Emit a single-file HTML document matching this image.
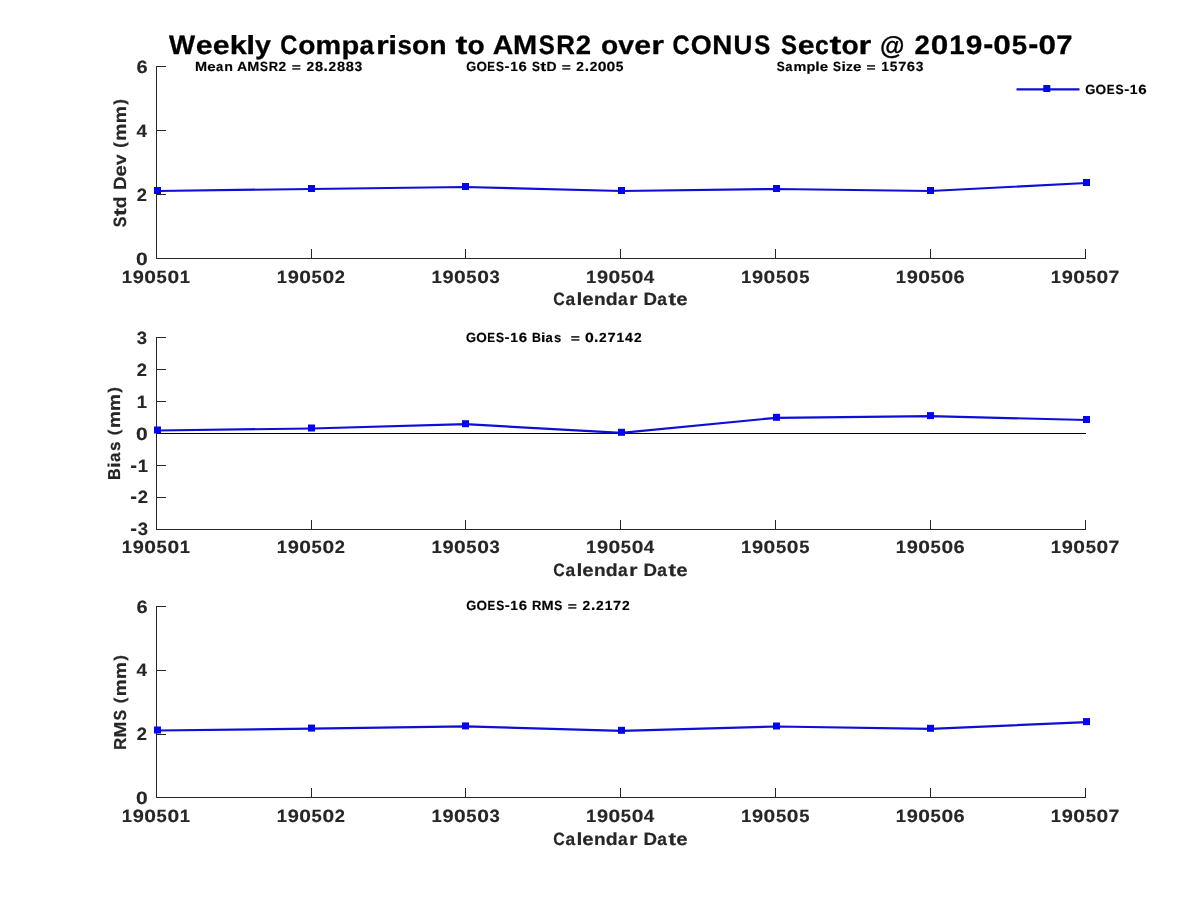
<!DOCTYPE html>
<html><head><meta charset="utf-8"><title>Weekly Comparison to AMSR2 over CONUS Sector</title>
<style>
html,body{margin:0;padding:0;background:#fff;overflow:hidden;}
svg{display:block;will-change:transform;}
text{text-rendering:geometricPrecision;font-family:'Liberation Sans', sans-serif;font-weight:bold;}
</style></head>
<body>
<svg width="1200" height="900" viewBox="0 0 1200 900">
<rect width="1200" height="900" fill="#fff"/>
<g fill="#262626"><rect x="156" y="66" width="1" height="193"/><rect x="156" y="258" width="930" height="1"/><rect x="157" y="66" width="9" height="1"/><rect x="157" y="130" width="9" height="1"/><rect x="157" y="194" width="9" height="1"/><rect x="311" y="249" width="1" height="9"/><rect x="465" y="249" width="1" height="9"/><rect x="620" y="249" width="1" height="9"/><rect x="775" y="249" width="1" height="9"/><rect x="930" y="249" width="1" height="9"/><rect x="1085" y="249" width="1" height="9"/></g>
<g fill="#262626"><rect x="156" y="337" width="1" height="193"/><rect x="156" y="529" width="930" height="1"/><rect x="157" y="337" width="9" height="1"/><rect x="157" y="369" width="9" height="1"/><rect x="157" y="401" width="9" height="1"/><rect x="157" y="433" width="9" height="1"/><rect x="157" y="465" width="9" height="1"/><rect x="157" y="497" width="9" height="1"/><rect x="311" y="520" width="1" height="9"/><rect x="465" y="520" width="1" height="9"/><rect x="620" y="520" width="1" height="9"/><rect x="775" y="520" width="1" height="9"/><rect x="930" y="520" width="1" height="9"/><rect x="1085" y="520" width="1" height="9"/></g>
<g fill="#262626"><rect x="156" y="606" width="1" height="192"/><rect x="156" y="797" width="930" height="1"/><rect x="157" y="606" width="9" height="1"/><rect x="157" y="670" width="9" height="1"/><rect x="157" y="734" width="9" height="1"/><rect x="311" y="788" width="1" height="9"/><rect x="465" y="788" width="1" height="9"/><rect x="620" y="788" width="1" height="9"/><rect x="775" y="788" width="1" height="9"/><rect x="930" y="788" width="1" height="9"/><rect x="1085" y="788" width="1" height="9"/></g>
<rect x="157" y="433" width="929" height="1" fill="#000"/>
<path d="M157.50,191.00 L311.50,189.00 L465.50,187.00 L621.50,191.00 L776.50,189.00 L930.50,191.00 L1086.50,183.00" fill="none" stroke="#0e0ed8" stroke-width="2.2" stroke-linejoin="round"/>
<rect x="154.00" y="187.00" width="7" height="7" fill="#0404f4"/>
<rect x="308.00" y="185.00" width="7" height="7" fill="#0404f4"/>
<rect x="462.00" y="183.00" width="7" height="7" fill="#0404f4"/>
<rect x="618.00" y="187.00" width="7" height="7" fill="#0404f4"/>
<rect x="773.00" y="185.00" width="7" height="7" fill="#0404f4"/>
<rect x="927.00" y="187.00" width="7" height="7" fill="#0404f4"/>
<rect x="1083.00" y="179.00" width="7" height="7" fill="#0404f4"/>
<path d="M157.50,430.50 L311.50,428.50 L465.50,424.20 L621.50,432.80 L776.50,417.80 L930.50,416.10 L1086.50,420.00" fill="none" stroke="#0e0ed8" stroke-width="2.2" stroke-linejoin="round"/>
<rect x="154.00" y="426.50" width="7" height="7" fill="#0404f4"/>
<rect x="308.00" y="424.50" width="7" height="7" fill="#0404f4"/>
<rect x="462.00" y="420.20" width="7" height="7" fill="#0404f4"/>
<rect x="618.00" y="428.80" width="7" height="7" fill="#0404f4"/>
<rect x="773.00" y="413.80" width="7" height="7" fill="#0404f4"/>
<rect x="927.00" y="412.10" width="7" height="7" fill="#0404f4"/>
<rect x="1083.00" y="416.00" width="7" height="7" fill="#0404f4"/>
<path d="M157.50,730.50 L311.50,728.60 L465.50,726.40 L621.50,730.80 L776.50,726.50 L930.50,728.80 L1086.50,722.10" fill="none" stroke="#0e0ed8" stroke-width="2.2" stroke-linejoin="round"/>
<rect x="154.00" y="726.50" width="7" height="7" fill="#0404f4"/>
<rect x="308.00" y="724.60" width="7" height="7" fill="#0404f4"/>
<rect x="462.00" y="722.40" width="7" height="7" fill="#0404f4"/>
<rect x="618.00" y="726.80" width="7" height="7" fill="#0404f4"/>
<rect x="773.00" y="722.50" width="7" height="7" fill="#0404f4"/>
<rect x="927.00" y="724.80" width="7" height="7" fill="#0404f4"/>
<rect x="1083.00" y="718.10" width="7" height="7" fill="#0404f4"/>
<path d="M1016.5,89.3 L1079.5,89.3" stroke="#0e0ed8" stroke-width="2.2" fill="none"/>
<rect x="1043.3" y="85" width="7" height="7" fill="#0404f4"/>
<g fill="#000" stroke="#000" stroke-linejoin="round" aria-label="Weekly Comparison to AMSR2 over CONUS Sector @ 2019-05-07"><text transform="matrix(1.0431,0,0,0.9996,168.97,53.75)" font-size="26.5" stroke-width="0.294">W</text><text transform="matrix(1.1460,0,0,0.9888,195.71,53.85)" font-size="26.5" stroke-width="0.282">e</text><text transform="matrix(1.1460,0,0,0.9888,212.65,53.85)" font-size="26.5" stroke-width="0.282">e</text><text transform="matrix(1.1612,0,0,0.9892,229.66,53.75)" font-size="26.5" stroke-width="0.280">k</text><text transform="matrix(1.2013,0,0,0.9892,246.21,53.75)" font-size="26.5" stroke-width="0.275">l</text><text transform="matrix(1.0794,0,0,0.9778,254.98,53.77)" font-size="26.5" stroke-width="0.292">y</text><text transform="matrix(0.8943,0,0,1.0078,280.15,53.84)" font-size="26.5" stroke-width="0.316">C</text><text transform="matrix(1.0639,0,0,0.9888,298.19,53.85)" font-size="26.5" stroke-width="0.292">o</text><text transform="matrix(1.0899,0,0,0.9810,315.56,53.75)" font-size="26.5" stroke-width="0.290">m</text><text transform="matrix(1.0983,0,0,0.9699,341.60,53.62)" font-size="26.5" stroke-width="0.291">p</text><text transform="matrix(0.9783,0,0,0.9888,359.62,53.85)" font-size="26.5" stroke-width="0.305">a</text><text transform="matrix(1.2433,0,0,0.9810,376.10,53.75)" font-size="26.5" stroke-width="0.272">r</text><text transform="matrix(1.2013,0,0,0.9892,388.37,53.75)" font-size="26.5" stroke-width="0.275">i</text><text transform="matrix(0.9746,0,0,0.9879,397.45,53.85)" font-size="26.5" stroke-width="0.306">s</text><text transform="matrix(1.0639,0,0,0.9888,411.91,53.85)" font-size="26.5" stroke-width="0.292">o</text><text transform="matrix(1.0735,0,0,0.9810,429.32,53.75)" font-size="26.5" stroke-width="0.292">n</text><text transform="matrix(1.3502,0,0,1.0019,455.48,53.52)" font-size="26.5" stroke-width="0.258">t</text><text transform="matrix(1.0639,0,0,0.9888,467.51,53.85)" font-size="26.5" stroke-width="0.292">o</text><text transform="matrix(1.0740,0,0,0.9996,492.81,53.75)" font-size="26.5" stroke-width="0.290">A</text><text transform="matrix(1.0937,0,0,0.9996,513.09,53.75)" font-size="26.5" stroke-width="0.287">M</text><text transform="matrix(0.9053,0,0,1.0078,538.71,53.84)" font-size="26.5" stroke-width="0.314">S</text><text transform="matrix(0.9777,0,0,0.9996,556.16,53.75)" font-size="26.5" stroke-width="0.303">R</text><text transform="matrix(1.0376,0,0,1.0028,575.86,53.75)" font-size="26.5" stroke-width="0.294">2</text><text transform="matrix(1.0639,0,0,0.9888,600.90,53.85)" font-size="26.5" stroke-width="0.292">o</text><text transform="matrix(1.0707,0,0,0.9765,618.36,53.75)" font-size="26.5" stroke-width="0.293">v</text><text transform="matrix(1.1460,0,0,0.9888,634.27,53.85)" font-size="26.5" stroke-width="0.282">e</text><text transform="matrix(1.2433,0,0,0.9810,651.26,53.75)" font-size="26.5" stroke-width="0.272">r</text><text transform="matrix(0.8943,0,0,1.0078,672.62,53.84)" font-size="26.5" stroke-width="0.316">C</text><text transform="matrix(1.0178,0,0,1.0078,690.83,53.84)" font-size="26.5" stroke-width="0.296">O</text><text transform="matrix(1.0479,0,0,0.9996,712.37,53.75)" font-size="26.5" stroke-width="0.293">N</text><text transform="matrix(0.9858,0,0,1.0048,733.57,53.84)" font-size="26.5" stroke-width="0.301">U</text><text transform="matrix(0.9053,0,0,1.0078,754.24,53.84)" font-size="26.5" stroke-width="0.314">S</text><text transform="matrix(0.9053,0,0,1.0078,780.93,53.84)" font-size="26.5" stroke-width="0.314">S</text><text transform="matrix(1.1460,0,0,0.9888,797.71,53.85)" font-size="26.5" stroke-width="0.282">e</text><text transform="matrix(0.9335,0,0,0.9888,814.88,53.85)" font-size="26.5" stroke-width="0.312">c</text><text transform="matrix(1.3502,0,0,1.0019,829.48,53.52)" font-size="26.5" stroke-width="0.258">t</text><text transform="matrix(1.0639,0,0,0.9888,841.50,53.85)" font-size="26.5" stroke-width="0.292">o</text><text transform="matrix(1.2433,0,0,0.9810,858.62,53.75)" font-size="26.5" stroke-width="0.272">r</text><text transform="matrix(0.9467,0,0,0.9529,879.93,54.10)" font-size="26.5" stroke-width="0.316">@</text><text transform="matrix(1.0376,0,0,1.0028,914.43,53.75)" font-size="26.5" stroke-width="0.294">2</text><text transform="matrix(1.1898,0,0,1.0078,930.74,53.84)" font-size="26.5" stroke-width="0.274">0</text><text transform="matrix(1.0419,0,0,0.9996,949.26,53.75)" font-size="26.5" stroke-width="0.294">1</text><text transform="matrix(1.1292,0,0,1.0065,965.82,53.84)" font-size="26.5" stroke-width="0.281">9</text><text transform="matrix(1.1388,0,0,1.1251,983.13,54.28)" font-size="26.5" stroke-width="0.265">-</text><text transform="matrix(1.1898,0,0,1.0078,993.27,53.84)" font-size="26.5" stroke-width="0.274">0</text><text transform="matrix(1.0401,0,0,1.0048,1011.79,53.84)" font-size="26.5" stroke-width="0.293">5</text><text transform="matrix(1.1388,0,0,1.1251,1028.27,54.28)" font-size="26.5" stroke-width="0.265">-</text><text transform="matrix(1.1898,0,0,1.0078,1038.41,53.84)" font-size="26.5" stroke-width="0.274">0</text><text transform="matrix(1.1038,0,0,0.9996,1056.27,53.75)" font-size="26.5" stroke-width="0.286">7</text></g>
<g fill="#000" stroke="#000" stroke-linejoin="round" aria-label="Mean AMSR2 = 28.2883"><text transform="matrix(1.0925,0,0,0.9996,195.03,70.75)" font-size="13.25" stroke-width="0.153">M</text><text transform="matrix(1.1448,0,0,0.9888,207.22,70.80)" font-size="13.25" stroke-width="0.150">e</text><text transform="matrix(0.9773,0,0,0.9888,215.90,70.80)" font-size="13.25" stroke-width="0.163">a</text><text transform="matrix(1.0724,0,0,0.9810,224.27,70.75)" font-size="13.25" stroke-width="0.156">n</text><text transform="matrix(1.0729,0,0,0.9996,237.10,70.75)" font-size="13.25" stroke-width="0.154">A</text><text transform="matrix(1.0925,0,0,0.9996,247.23,70.75)" font-size="13.25" stroke-width="0.153">M</text><text transform="matrix(0.9043,0,0,1.0078,260.02,70.80)" font-size="13.25" stroke-width="0.168">S</text><text transform="matrix(0.9767,0,0,0.9996,268.74,70.75)" font-size="13.25" stroke-width="0.162">R</text><text transform="matrix(1.0365,0,0,1.0028,278.58,70.75)" font-size="13.25" stroke-width="0.157">2</text><text transform="matrix(1.1758,0,0,0.8434,291.77,70.54)" font-size="13.25" stroke-width="0.161">=</text><text transform="matrix(1.0365,0,0,1.0028,306.41,70.75)" font-size="13.25" stroke-width="0.157">2</text><text transform="matrix(1.0929,0,0,1.0078,314.88,70.80)" font-size="13.25" stroke-width="0.152">8</text><text transform="matrix(1.1733,0,0,1.1970,323.49,70.75)" font-size="13.25" stroke-width="0.135">.</text><text transform="matrix(1.0365,0,0,1.0028,328.52,70.75)" font-size="13.25" stroke-width="0.157">2</text><text transform="matrix(1.0929,0,0,1.0078,336.99,70.80)" font-size="13.25" stroke-width="0.152">8</text><text transform="matrix(1.0929,0,0,1.0078,345.68,70.80)" font-size="13.25" stroke-width="0.152">8</text><text transform="matrix(1.0409,0,0,1.0057,354.58,70.78)" font-size="13.25" stroke-width="0.156">3</text></g>
<g fill="#000" stroke="#000" stroke-linejoin="round" aria-label="GOES-16 StD = 2.2005"><text transform="matrix(0.9724,0,0,1.0078,466.22,70.80)" font-size="13.25" stroke-width="0.162">G</text><text transform="matrix(1.0158,0,0,1.0078,476.43,70.80)" font-size="13.25" stroke-width="0.158">O</text><text transform="matrix(0.8690,0,0,0.9996,487.34,70.75)" font-size="13.25" stroke-width="0.172">E</text><text transform="matrix(0.9035,0,0,1.0078,496.03,70.80)" font-size="13.25" stroke-width="0.168">S</text><text transform="matrix(1.1365,0,0,1.1251,504.55,71.02)" font-size="13.25" stroke-width="0.141">-</text><text transform="matrix(1.0398,0,0,0.9996,510.18,70.75)" font-size="13.25" stroke-width="0.157">1</text><text transform="matrix(1.1293,0,0,1.0065,518.54,70.80)" font-size="13.25" stroke-width="0.150">6</text><text transform="matrix(0.9035,0,0,1.0078,531.88,70.80)" font-size="13.25" stroke-width="0.168">S</text><text transform="matrix(1.3476,0,0,1.0019,540.26,70.63)" font-size="13.25" stroke-width="0.138">t</text><text transform="matrix(1.0527,0,0,0.9996,546.48,70.75)" font-size="13.25" stroke-width="0.156">D</text><text transform="matrix(1.1747,0,0,0.8434,561.64,70.54)" font-size="13.25" stroke-width="0.161">=</text><text transform="matrix(1.0356,0,0,1.0028,576.26,70.75)" font-size="13.25" stroke-width="0.157">2</text><text transform="matrix(1.1723,0,0,1.1970,584.65,70.75)" font-size="13.25" stroke-width="0.135">.</text><text transform="matrix(1.0356,0,0,1.0028,589.68,70.75)" font-size="13.25" stroke-width="0.157">2</text><text transform="matrix(1.1875,0,0,1.0078,597.82,70.80)" font-size="13.25" stroke-width="0.146">0</text><text transform="matrix(1.1875,0,0,1.0078,606.49,70.80)" font-size="13.25" stroke-width="0.146">0</text><text transform="matrix(1.0381,0,0,1.0048,615.73,70.80)" font-size="13.25" stroke-width="0.157">5</text></g>
<g fill="#000" stroke="#000" stroke-linejoin="round" aria-label="Sample Size = 15763"><text transform="matrix(0.9036,0,0,1.0078,776.66,70.80)" font-size="13.25" stroke-width="0.168">S</text><text transform="matrix(0.9766,0,0,0.9888,785.24,70.80)" font-size="13.25" stroke-width="0.163">a</text><text transform="matrix(1.0879,0,0,0.9810,793.59,70.75)" font-size="13.25" stroke-width="0.155">m</text><text transform="matrix(1.0963,0,0,0.9699,806.59,70.68)" font-size="13.25" stroke-width="0.155">p</text><text transform="matrix(1.1991,0,0,0.9892,815.36,70.75)" font-size="13.25" stroke-width="0.147">l</text><text transform="matrix(1.1439,0,0,0.9888,819.64,70.80)" font-size="13.25" stroke-width="0.150">e</text><text transform="matrix(0.9036,0,0,1.0078,833.05,70.80)" font-size="13.25" stroke-width="0.168">S</text><text transform="matrix(1.1991,0,0,0.9892,841.42,70.75)" font-size="13.25" stroke-width="0.147">i</text><text transform="matrix(1.0865,0,0,0.9765,845.74,70.75)" font-size="13.25" stroke-width="0.155">z</text><text transform="matrix(1.1439,0,0,0.9888,852.96,70.80)" font-size="13.25" stroke-width="0.150">e</text><text transform="matrix(1.1749,0,0,0.8434,866.49,70.54)" font-size="13.25" stroke-width="0.161">=</text><text transform="matrix(1.0400,0,0,0.9996,881.14,70.75)" font-size="13.25" stroke-width="0.157">1</text><text transform="matrix(1.0382,0,0,1.0048,889.82,70.80)" font-size="13.25" stroke-width="0.157">5</text><text transform="matrix(1.1018,0,0,0.9996,898.17,70.75)" font-size="13.25" stroke-width="0.152">7</text><text transform="matrix(1.1295,0,0,1.0065,906.86,70.80)" font-size="13.25" stroke-width="0.150">6</text><text transform="matrix(1.0401,0,0,1.0057,915.83,70.78)" font-size="13.25" stroke-width="0.156">3</text></g>
<g fill="#000" stroke="#000" stroke-linejoin="round" aria-label="GOES-16"><text transform="matrix(0.9859,0,0,1.0078,1085.26,93.80)" font-size="13.25" stroke-width="0.161">G</text><text transform="matrix(1.0300,0,0,1.0078,1095.62,93.80)" font-size="13.25" stroke-width="0.157">O</text><text transform="matrix(0.8811,0,0,0.9996,1106.68,93.75)" font-size="13.25" stroke-width="0.170">E</text><text transform="matrix(0.9161,0,0,1.0078,1115.49,93.80)" font-size="13.25" stroke-width="0.167">S</text><text transform="matrix(1.1524,0,0,1.1251,1124.13,94.02)" font-size="13.25" stroke-width="0.141">-</text><text transform="matrix(1.0543,0,0,0.9996,1129.83,93.75)" font-size="13.25" stroke-width="0.156">1</text><text transform="matrix(1.1450,0,0,1.0065,1138.31,93.80)" font-size="13.25" stroke-width="0.149">6</text></g>
<g fill="#000" stroke="#000" stroke-linejoin="round" aria-label="GOES-16 Bias  = 0.27142"><text transform="matrix(0.9781,0,0,1.0078,466.07,341.85)" font-size="13.25" stroke-width="0.171">G</text><text transform="matrix(1.0218,0,0,1.0078,476.34,341.85)" font-size="13.25" stroke-width="0.168">O</text><text transform="matrix(0.8741,0,0,0.9996,487.31,341.80)" font-size="13.25" stroke-width="0.182">E</text><text transform="matrix(0.9088,0,0,1.0078,496.05,341.85)" font-size="13.25" stroke-width="0.178">S</text><text transform="matrix(1.1432,0,0,1.1251,504.62,342.07)" font-size="13.25" stroke-width="0.150">-</text><text transform="matrix(1.0460,0,0,0.9996,510.28,341.80)" font-size="13.25" stroke-width="0.166">1</text><text transform="matrix(1.1360,0,0,1.0065,518.69,341.85)" font-size="13.25" stroke-width="0.159">6</text><text transform="matrix(0.9315,0,0,0.9996,531.89,341.80)" font-size="13.25" stroke-width="0.176">B</text><text transform="matrix(1.2060,0,0,0.9892,541.06,341.80)" font-size="13.25" stroke-width="0.156">i</text><text transform="matrix(0.9822,0,0,0.9888,545.58,341.85)" font-size="13.25" stroke-width="0.173">a</text><text transform="matrix(0.9784,0,0,0.9879,554.08,341.85)" font-size="13.25" stroke-width="0.173">s</text><text transform="matrix(1.1817,0,0,0.8434,570.76,341.59)" font-size="13.25" stroke-width="0.170">=</text><text transform="matrix(1.1945,0,0,1.0078,584.94,341.85)" font-size="13.25" stroke-width="0.155">0</text><text transform="matrix(1.1792,0,0,1.1970,593.91,341.80)" font-size="13.25" stroke-width="0.143">.</text><text transform="matrix(1.0417,0,0,1.0028,598.97,341.80)" font-size="13.25" stroke-width="0.166">2</text><text transform="matrix(1.1082,0,0,0.9996,607.39,341.80)" font-size="13.25" stroke-width="0.162">7</text><text transform="matrix(1.0460,0,0,0.9996,616.45,341.80)" font-size="13.25" stroke-width="0.166">1</text><text transform="matrix(1.0692,0,0,0.9996,624.98,341.80)" font-size="13.25" stroke-width="0.164">4</text><text transform="matrix(1.0417,0,0,1.0028,633.88,341.80)" font-size="13.25" stroke-width="0.166">2</text></g>
<g fill="#000" stroke="#000" stroke-linejoin="round" aria-label="GOES-16 RMS = 2.2172"><text transform="matrix(0.9767,0,0,1.0078,466.22,609.85)" font-size="13.25" stroke-width="0.161">G</text><text transform="matrix(1.0203,0,0,1.0078,476.48,609.85)" font-size="13.25" stroke-width="0.158">O</text><text transform="matrix(0.8728,0,0,0.9996,487.43,609.80)" font-size="13.25" stroke-width="0.171">E</text><text transform="matrix(0.9075,0,0,1.0078,496.16,609.85)" font-size="13.25" stroke-width="0.167">S</text><text transform="matrix(1.1416,0,0,1.1251,504.72,610.07)" font-size="13.25" stroke-width="0.141">-</text><text transform="matrix(1.0444,0,0,0.9996,510.37,609.80)" font-size="13.25" stroke-width="0.157">1</text><text transform="matrix(1.1343,0,0,1.0065,518.77,609.85)" font-size="13.25" stroke-width="0.150">6</text><text transform="matrix(0.9801,0,0,0.9996,531.90,609.80)" font-size="13.25" stroke-width="0.162">R</text><text transform="matrix(1.0964,0,0,0.9996,541.44,609.80)" font-size="13.25" stroke-width="0.153">M</text><text transform="matrix(0.9075,0,0,1.0078,554.28,609.85)" font-size="13.25" stroke-width="0.167">S</text><text transform="matrix(1.1799,0,0,0.8434,567.78,609.59)" font-size="13.25" stroke-width="0.160">=</text><text transform="matrix(1.0401,0,0,1.0028,582.47,609.80)" font-size="13.25" stroke-width="0.157">2</text><text transform="matrix(1.1775,0,0,1.1970,590.89,609.80)" font-size="13.25" stroke-width="0.135">.</text><text transform="matrix(1.0401,0,0,1.0028,595.94,609.80)" font-size="13.25" stroke-width="0.157">2</text><text transform="matrix(1.0444,0,0,0.9996,604.69,609.80)" font-size="13.25" stroke-width="0.157">1</text><text transform="matrix(1.1065,0,0,0.9996,613.07,609.80)" font-size="13.25" stroke-width="0.152">7</text><text transform="matrix(1.0401,0,0,1.0028,622.09,609.80)" font-size="13.25" stroke-width="0.157">2</text></g>
<g fill="#262626" stroke="#262626" stroke-linejoin="round" aria-label="190501"><text transform="matrix(1.0425,0,0,0.9998,121.69,282.80)" font-size="17.7" stroke-width="0.147">1</text><text transform="matrix(1.1299,0,0,1.0066,132.76,282.86)" font-size="17.7" stroke-width="0.141">9</text><text transform="matrix(1.1905,0,0,1.0079,144.18,282.86)" font-size="17.7" stroke-width="0.137">0</text><text transform="matrix(1.0407,0,0,1.0049,156.55,282.86)" font-size="17.7" stroke-width="0.147">5</text><text transform="matrix(1.1905,0,0,1.0079,167.42,282.86)" font-size="17.7" stroke-width="0.137">0</text><text transform="matrix(1.0425,0,0,0.9998,179.79,282.80)" font-size="17.7" stroke-width="0.147">1</text></g>
<g fill="#262626" stroke="#262626" stroke-linejoin="round" aria-label="190502"><text transform="matrix(1.0425,0,0,0.9998,276.68,282.80)" font-size="17.7" stroke-width="0.147">1</text><text transform="matrix(1.1299,0,0,1.0066,287.75,282.86)" font-size="17.7" stroke-width="0.141">9</text><text transform="matrix(1.1905,0,0,1.0079,299.16,282.86)" font-size="17.7" stroke-width="0.137">0</text><text transform="matrix(1.0407,0,0,1.0049,311.54,282.86)" font-size="17.7" stroke-width="0.147">5</text><text transform="matrix(1.1905,0,0,1.0079,322.40,282.86)" font-size="17.7" stroke-width="0.137">0</text><text transform="matrix(1.0382,0,0,1.0029,334.74,282.80)" font-size="17.7" stroke-width="0.147">2</text></g>
<g fill="#262626" stroke="#262626" stroke-linejoin="round" aria-label="190503"><text transform="matrix(1.0425,0,0,0.9998,431.45,282.80)" font-size="17.7" stroke-width="0.147">1</text><text transform="matrix(1.1299,0,0,1.0066,442.52,282.86)" font-size="17.7" stroke-width="0.141">9</text><text transform="matrix(1.1905,0,0,1.0079,453.94,282.86)" font-size="17.7" stroke-width="0.137">0</text><text transform="matrix(1.0407,0,0,1.0049,466.31,282.86)" font-size="17.7" stroke-width="0.147">5</text><text transform="matrix(1.1905,0,0,1.0079,477.17,282.86)" font-size="17.7" stroke-width="0.137">0</text><text transform="matrix(1.0427,0,0,1.0058,489.52,282.84)" font-size="17.7" stroke-width="0.146">3</text></g>
<g fill="#262626" stroke="#262626" stroke-linejoin="round" aria-label="190504"><text transform="matrix(1.0425,0,0,0.9998,586.00,282.80)" font-size="17.7" stroke-width="0.147">1</text><text transform="matrix(1.1299,0,0,1.0066,597.07,282.86)" font-size="17.7" stroke-width="0.141">9</text><text transform="matrix(1.1905,0,0,1.0079,608.49,282.86)" font-size="17.7" stroke-width="0.137">0</text><text transform="matrix(1.0407,0,0,1.0049,620.86,282.86)" font-size="17.7" stroke-width="0.147">5</text><text transform="matrix(1.1905,0,0,1.0079,631.73,282.86)" font-size="17.7" stroke-width="0.137">0</text><text transform="matrix(1.0656,0,0,0.9998,643.85,282.80)" font-size="17.7" stroke-width="0.145">4</text></g>
<g fill="#262626" stroke="#262626" stroke-linejoin="round" aria-label="190505"><text transform="matrix(1.0425,0,0,0.9998,741.04,282.80)" font-size="17.7" stroke-width="0.147">1</text><text transform="matrix(1.1299,0,0,1.0066,752.11,282.86)" font-size="17.7" stroke-width="0.141">9</text><text transform="matrix(1.1905,0,0,1.0079,763.52,282.86)" font-size="17.7" stroke-width="0.137">0</text><text transform="matrix(1.0407,0,0,1.0049,775.90,282.86)" font-size="17.7" stroke-width="0.147">5</text><text transform="matrix(1.1905,0,0,1.0079,786.76,282.86)" font-size="17.7" stroke-width="0.137">0</text><text transform="matrix(1.0407,0,0,1.0049,799.14,282.86)" font-size="17.7" stroke-width="0.147">5</text></g>
<g fill="#262626" stroke="#262626" stroke-linejoin="round" aria-label="190506"><text transform="matrix(1.0425,0,0,0.9998,895.74,282.80)" font-size="17.7" stroke-width="0.147">1</text><text transform="matrix(1.1299,0,0,1.0066,906.80,282.86)" font-size="17.7" stroke-width="0.141">9</text><text transform="matrix(1.1905,0,0,1.0079,918.22,282.86)" font-size="17.7" stroke-width="0.137">0</text><text transform="matrix(1.0407,0,0,1.0049,930.60,282.86)" font-size="17.7" stroke-width="0.147">5</text><text transform="matrix(1.1905,0,0,1.0079,941.46,282.86)" font-size="17.7" stroke-width="0.137">0</text><text transform="matrix(1.1322,0,0,1.0066,953.41,282.86)" font-size="17.7" stroke-width="0.141">6</text></g>
<g fill="#262626" stroke="#262626" stroke-linejoin="round" aria-label="190507"><text transform="matrix(1.0425,0,0,0.9998,1050.78,282.80)" font-size="17.7" stroke-width="0.147">1</text><text transform="matrix(1.1299,0,0,1.0066,1061.85,282.86)" font-size="17.7" stroke-width="0.141">9</text><text transform="matrix(1.1905,0,0,1.0079,1073.27,282.86)" font-size="17.7" stroke-width="0.137">0</text><text transform="matrix(1.0407,0,0,1.0049,1085.64,282.86)" font-size="17.7" stroke-width="0.147">5</text><text transform="matrix(1.1905,0,0,1.0079,1096.51,282.86)" font-size="17.7" stroke-width="0.137">0</text><text transform="matrix(1.1045,0,0,0.9998,1108.44,282.80)" font-size="17.7" stroke-width="0.143">7</text></g>
<g fill="#262626" stroke="#262626" stroke-linejoin="round" aria-label="190501"><text transform="matrix(1.0425,0,0,0.9998,121.69,552.80)" font-size="17.7" stroke-width="0.147">1</text><text transform="matrix(1.1299,0,0,1.0066,132.76,552.86)" font-size="17.7" stroke-width="0.141">9</text><text transform="matrix(1.1905,0,0,1.0079,144.18,552.86)" font-size="17.7" stroke-width="0.137">0</text><text transform="matrix(1.0407,0,0,1.0049,156.55,552.86)" font-size="17.7" stroke-width="0.147">5</text><text transform="matrix(1.1905,0,0,1.0079,167.42,552.86)" font-size="17.7" stroke-width="0.137">0</text><text transform="matrix(1.0425,0,0,0.9998,179.79,552.80)" font-size="17.7" stroke-width="0.147">1</text></g>
<g fill="#262626" stroke="#262626" stroke-linejoin="round" aria-label="190502"><text transform="matrix(1.0425,0,0,0.9998,276.68,552.80)" font-size="17.7" stroke-width="0.147">1</text><text transform="matrix(1.1299,0,0,1.0066,287.75,552.86)" font-size="17.7" stroke-width="0.141">9</text><text transform="matrix(1.1905,0,0,1.0079,299.16,552.86)" font-size="17.7" stroke-width="0.137">0</text><text transform="matrix(1.0407,0,0,1.0049,311.54,552.86)" font-size="17.7" stroke-width="0.147">5</text><text transform="matrix(1.1905,0,0,1.0079,322.40,552.86)" font-size="17.7" stroke-width="0.137">0</text><text transform="matrix(1.0382,0,0,1.0029,334.74,552.80)" font-size="17.7" stroke-width="0.147">2</text></g>
<g fill="#262626" stroke="#262626" stroke-linejoin="round" aria-label="190503"><text transform="matrix(1.0425,0,0,0.9998,431.45,552.80)" font-size="17.7" stroke-width="0.147">1</text><text transform="matrix(1.1299,0,0,1.0066,442.52,552.86)" font-size="17.7" stroke-width="0.141">9</text><text transform="matrix(1.1905,0,0,1.0079,453.94,552.86)" font-size="17.7" stroke-width="0.137">0</text><text transform="matrix(1.0407,0,0,1.0049,466.31,552.86)" font-size="17.7" stroke-width="0.147">5</text><text transform="matrix(1.1905,0,0,1.0079,477.17,552.86)" font-size="17.7" stroke-width="0.137">0</text><text transform="matrix(1.0427,0,0,1.0058,489.52,552.84)" font-size="17.7" stroke-width="0.146">3</text></g>
<g fill="#262626" stroke="#262626" stroke-linejoin="round" aria-label="190504"><text transform="matrix(1.0425,0,0,0.9998,586.00,552.80)" font-size="17.7" stroke-width="0.147">1</text><text transform="matrix(1.1299,0,0,1.0066,597.07,552.86)" font-size="17.7" stroke-width="0.141">9</text><text transform="matrix(1.1905,0,0,1.0079,608.49,552.86)" font-size="17.7" stroke-width="0.137">0</text><text transform="matrix(1.0407,0,0,1.0049,620.86,552.86)" font-size="17.7" stroke-width="0.147">5</text><text transform="matrix(1.1905,0,0,1.0079,631.73,552.86)" font-size="17.7" stroke-width="0.137">0</text><text transform="matrix(1.0656,0,0,0.9998,643.85,552.80)" font-size="17.7" stroke-width="0.145">4</text></g>
<g fill="#262626" stroke="#262626" stroke-linejoin="round" aria-label="190505"><text transform="matrix(1.0425,0,0,0.9998,741.04,552.80)" font-size="17.7" stroke-width="0.147">1</text><text transform="matrix(1.1299,0,0,1.0066,752.11,552.86)" font-size="17.7" stroke-width="0.141">9</text><text transform="matrix(1.1905,0,0,1.0079,763.52,552.86)" font-size="17.7" stroke-width="0.137">0</text><text transform="matrix(1.0407,0,0,1.0049,775.90,552.86)" font-size="17.7" stroke-width="0.147">5</text><text transform="matrix(1.1905,0,0,1.0079,786.76,552.86)" font-size="17.7" stroke-width="0.137">0</text><text transform="matrix(1.0407,0,0,1.0049,799.14,552.86)" font-size="17.7" stroke-width="0.147">5</text></g>
<g fill="#262626" stroke="#262626" stroke-linejoin="round" aria-label="190506"><text transform="matrix(1.0425,0,0,0.9998,895.74,552.80)" font-size="17.7" stroke-width="0.147">1</text><text transform="matrix(1.1299,0,0,1.0066,906.80,552.86)" font-size="17.7" stroke-width="0.141">9</text><text transform="matrix(1.1905,0,0,1.0079,918.22,552.86)" font-size="17.7" stroke-width="0.137">0</text><text transform="matrix(1.0407,0,0,1.0049,930.60,552.86)" font-size="17.7" stroke-width="0.147">5</text><text transform="matrix(1.1905,0,0,1.0079,941.46,552.86)" font-size="17.7" stroke-width="0.137">0</text><text transform="matrix(1.1322,0,0,1.0066,953.41,552.86)" font-size="17.7" stroke-width="0.141">6</text></g>
<g fill="#262626" stroke="#262626" stroke-linejoin="round" aria-label="190507"><text transform="matrix(1.0425,0,0,0.9998,1050.78,552.80)" font-size="17.7" stroke-width="0.147">1</text><text transform="matrix(1.1299,0,0,1.0066,1061.85,552.86)" font-size="17.7" stroke-width="0.141">9</text><text transform="matrix(1.1905,0,0,1.0079,1073.27,552.86)" font-size="17.7" stroke-width="0.137">0</text><text transform="matrix(1.0407,0,0,1.0049,1085.64,552.86)" font-size="17.7" stroke-width="0.147">5</text><text transform="matrix(1.1905,0,0,1.0079,1096.51,552.86)" font-size="17.7" stroke-width="0.137">0</text><text transform="matrix(1.1045,0,0,0.9998,1108.44,552.80)" font-size="17.7" stroke-width="0.143">7</text></g>
<g fill="#262626" stroke="#262626" stroke-linejoin="round" aria-label="190501"><text transform="matrix(1.0425,0,0,0.9998,121.69,821.80)" font-size="17.7" stroke-width="0.147">1</text><text transform="matrix(1.1299,0,0,1.0066,132.76,821.86)" font-size="17.7" stroke-width="0.141">9</text><text transform="matrix(1.1905,0,0,1.0079,144.18,821.86)" font-size="17.7" stroke-width="0.137">0</text><text transform="matrix(1.0407,0,0,1.0049,156.55,821.86)" font-size="17.7" stroke-width="0.147">5</text><text transform="matrix(1.1905,0,0,1.0079,167.42,821.86)" font-size="17.7" stroke-width="0.137">0</text><text transform="matrix(1.0425,0,0,0.9998,179.79,821.80)" font-size="17.7" stroke-width="0.147">1</text></g>
<g fill="#262626" stroke="#262626" stroke-linejoin="round" aria-label="190502"><text transform="matrix(1.0425,0,0,0.9998,276.68,821.80)" font-size="17.7" stroke-width="0.147">1</text><text transform="matrix(1.1299,0,0,1.0066,287.75,821.86)" font-size="17.7" stroke-width="0.141">9</text><text transform="matrix(1.1905,0,0,1.0079,299.16,821.86)" font-size="17.7" stroke-width="0.137">0</text><text transform="matrix(1.0407,0,0,1.0049,311.54,821.86)" font-size="17.7" stroke-width="0.147">5</text><text transform="matrix(1.1905,0,0,1.0079,322.40,821.86)" font-size="17.7" stroke-width="0.137">0</text><text transform="matrix(1.0382,0,0,1.0029,334.74,821.80)" font-size="17.7" stroke-width="0.147">2</text></g>
<g fill="#262626" stroke="#262626" stroke-linejoin="round" aria-label="190503"><text transform="matrix(1.0425,0,0,0.9998,431.45,821.80)" font-size="17.7" stroke-width="0.147">1</text><text transform="matrix(1.1299,0,0,1.0066,442.52,821.86)" font-size="17.7" stroke-width="0.141">9</text><text transform="matrix(1.1905,0,0,1.0079,453.94,821.86)" font-size="17.7" stroke-width="0.137">0</text><text transform="matrix(1.0407,0,0,1.0049,466.31,821.86)" font-size="17.7" stroke-width="0.147">5</text><text transform="matrix(1.1905,0,0,1.0079,477.17,821.86)" font-size="17.7" stroke-width="0.137">0</text><text transform="matrix(1.0427,0,0,1.0058,489.52,821.84)" font-size="17.7" stroke-width="0.146">3</text></g>
<g fill="#262626" stroke="#262626" stroke-linejoin="round" aria-label="190504"><text transform="matrix(1.0425,0,0,0.9998,586.00,821.80)" font-size="17.7" stroke-width="0.147">1</text><text transform="matrix(1.1299,0,0,1.0066,597.07,821.86)" font-size="17.7" stroke-width="0.141">9</text><text transform="matrix(1.1905,0,0,1.0079,608.49,821.86)" font-size="17.7" stroke-width="0.137">0</text><text transform="matrix(1.0407,0,0,1.0049,620.86,821.86)" font-size="17.7" stroke-width="0.147">5</text><text transform="matrix(1.1905,0,0,1.0079,631.73,821.86)" font-size="17.7" stroke-width="0.137">0</text><text transform="matrix(1.0656,0,0,0.9998,643.85,821.80)" font-size="17.7" stroke-width="0.145">4</text></g>
<g fill="#262626" stroke="#262626" stroke-linejoin="round" aria-label="190505"><text transform="matrix(1.0425,0,0,0.9998,741.04,821.80)" font-size="17.7" stroke-width="0.147">1</text><text transform="matrix(1.1299,0,0,1.0066,752.11,821.86)" font-size="17.7" stroke-width="0.141">9</text><text transform="matrix(1.1905,0,0,1.0079,763.52,821.86)" font-size="17.7" stroke-width="0.137">0</text><text transform="matrix(1.0407,0,0,1.0049,775.90,821.86)" font-size="17.7" stroke-width="0.147">5</text><text transform="matrix(1.1905,0,0,1.0079,786.76,821.86)" font-size="17.7" stroke-width="0.137">0</text><text transform="matrix(1.0407,0,0,1.0049,799.14,821.86)" font-size="17.7" stroke-width="0.147">5</text></g>
<g fill="#262626" stroke="#262626" stroke-linejoin="round" aria-label="190506"><text transform="matrix(1.0425,0,0,0.9998,895.74,821.80)" font-size="17.7" stroke-width="0.147">1</text><text transform="matrix(1.1299,0,0,1.0066,906.80,821.86)" font-size="17.7" stroke-width="0.141">9</text><text transform="matrix(1.1905,0,0,1.0079,918.22,821.86)" font-size="17.7" stroke-width="0.137">0</text><text transform="matrix(1.0407,0,0,1.0049,930.60,821.86)" font-size="17.7" stroke-width="0.147">5</text><text transform="matrix(1.1905,0,0,1.0079,941.46,821.86)" font-size="17.7" stroke-width="0.137">0</text><text transform="matrix(1.1322,0,0,1.0066,953.41,821.86)" font-size="17.7" stroke-width="0.141">6</text></g>
<g fill="#262626" stroke="#262626" stroke-linejoin="round" aria-label="190507"><text transform="matrix(1.0425,0,0,0.9998,1050.78,821.80)" font-size="17.7" stroke-width="0.147">1</text><text transform="matrix(1.1299,0,0,1.0066,1061.85,821.86)" font-size="17.7" stroke-width="0.141">9</text><text transform="matrix(1.1905,0,0,1.0079,1073.27,821.86)" font-size="17.7" stroke-width="0.137">0</text><text transform="matrix(1.0407,0,0,1.0049,1085.64,821.86)" font-size="17.7" stroke-width="0.147">5</text><text transform="matrix(1.1905,0,0,1.0079,1096.51,821.86)" font-size="17.7" stroke-width="0.137">0</text><text transform="matrix(1.1045,0,0,0.9998,1108.44,821.80)" font-size="17.7" stroke-width="0.143">7</text></g>
<g fill="#262626" stroke="#262626" stroke-linejoin="round" aria-label="Calendar Date"><text transform="matrix(0.8980,0,0,1.0079,553.25,304.86)" font-size="17.7" stroke-width="0.210">C</text><text transform="matrix(0.9823,0,0,0.9889,565.57,304.87)" font-size="17.7" stroke-width="0.203">a</text><text transform="matrix(1.2062,0,0,0.9893,576.59,304.80)" font-size="17.7" stroke-width="0.183">l</text><text transform="matrix(1.1507,0,0,0.9889,582.34,304.87)" font-size="17.7" stroke-width="0.187">e</text><text transform="matrix(1.0779,0,0,0.9811,593.93,304.80)" font-size="17.7" stroke-width="0.194">n</text><text transform="matrix(1.1027,0,0,0.9943,605.66,304.86)" font-size="17.7" stroke-width="0.191">d</text><text transform="matrix(0.9823,0,0,0.9889,617.92,304.87)" font-size="17.7" stroke-width="0.203">a</text><text transform="matrix(1.2484,0,0,0.9811,628.97,304.80)" font-size="17.7" stroke-width="0.181">r</text><text transform="matrix(1.0591,0,0,0.9998,643.40,304.80)" font-size="17.7" stroke-width="0.194">D</text><text transform="matrix(0.9823,0,0,0.9889,657.24,304.87)" font-size="17.7" stroke-width="0.203">a</text><text transform="matrix(1.3557,0,0,1.0020,668.26,304.64)" font-size="17.7" stroke-width="0.172">t</text><text transform="matrix(1.1507,0,0,0.9889,676.27,304.87)" font-size="17.7" stroke-width="0.187">e</text></g>
<g fill="#262626" stroke="#262626" stroke-linejoin="round" aria-label="Calendar Date"><text transform="matrix(0.8980,0,0,1.0079,553.25,575.76)" font-size="17.7" stroke-width="0.210">C</text><text transform="matrix(0.9823,0,0,0.9889,565.57,575.77)" font-size="17.7" stroke-width="0.203">a</text><text transform="matrix(1.2062,0,0,0.9893,576.59,575.70)" font-size="17.7" stroke-width="0.183">l</text><text transform="matrix(1.1507,0,0,0.9889,582.34,575.77)" font-size="17.7" stroke-width="0.187">e</text><text transform="matrix(1.0779,0,0,0.9811,593.93,575.70)" font-size="17.7" stroke-width="0.194">n</text><text transform="matrix(1.1027,0,0,0.9943,605.66,575.76)" font-size="17.7" stroke-width="0.191">d</text><text transform="matrix(0.9823,0,0,0.9889,617.92,575.77)" font-size="17.7" stroke-width="0.203">a</text><text transform="matrix(1.2484,0,0,0.9811,628.97,575.70)" font-size="17.7" stroke-width="0.181">r</text><text transform="matrix(1.0591,0,0,0.9998,643.40,575.70)" font-size="17.7" stroke-width="0.194">D</text><text transform="matrix(0.9823,0,0,0.9889,657.24,575.77)" font-size="17.7" stroke-width="0.203">a</text><text transform="matrix(1.3557,0,0,1.0020,668.26,575.54)" font-size="17.7" stroke-width="0.172">t</text><text transform="matrix(1.1507,0,0,0.9889,676.27,575.77)" font-size="17.7" stroke-width="0.187">e</text></g>
<g fill="#262626" stroke="#262626" stroke-linejoin="round" aria-label="Calendar Date"><text transform="matrix(0.8980,0,0,1.0079,553.25,844.76)" font-size="17.7" stroke-width="0.210">C</text><text transform="matrix(0.9823,0,0,0.9889,565.57,844.77)" font-size="17.7" stroke-width="0.203">a</text><text transform="matrix(1.2062,0,0,0.9893,576.59,844.70)" font-size="17.7" stroke-width="0.183">l</text><text transform="matrix(1.1507,0,0,0.9889,582.34,844.77)" font-size="17.7" stroke-width="0.187">e</text><text transform="matrix(1.0779,0,0,0.9811,593.93,844.70)" font-size="17.7" stroke-width="0.194">n</text><text transform="matrix(1.1027,0,0,0.9943,605.66,844.76)" font-size="17.7" stroke-width="0.191">d</text><text transform="matrix(0.9823,0,0,0.9889,617.92,844.77)" font-size="17.7" stroke-width="0.203">a</text><text transform="matrix(1.2484,0,0,0.9811,628.97,844.70)" font-size="17.7" stroke-width="0.181">r</text><text transform="matrix(1.0591,0,0,0.9998,643.40,844.70)" font-size="17.7" stroke-width="0.194">D</text><text transform="matrix(0.9823,0,0,0.9889,657.24,844.77)" font-size="17.7" stroke-width="0.203">a</text><text transform="matrix(1.3557,0,0,1.0020,668.26,844.54)" font-size="17.7" stroke-width="0.172">t</text><text transform="matrix(1.1507,0,0,0.9889,676.27,844.77)" font-size="17.7" stroke-width="0.187">e</text></g>
<g fill="#262626" stroke="#262626" stroke-linejoin="round" aria-label="6"><text transform="matrix(1.1322,0,0,1.0066,136.38,72.78)" font-size="17.7" stroke-width="0.131">6</text></g>
<g fill="#262626" stroke="#262626" stroke-linejoin="round" aria-label="4"><text transform="matrix(1.0656,0,0,0.9998,136.54,136.59)" font-size="17.7" stroke-width="0.136">4</text></g>
<g fill="#262626" stroke="#262626" stroke-linejoin="round" aria-label="2"><text transform="matrix(1.0382,0,0,1.0029,136.76,200.90)" font-size="17.7" stroke-width="0.137">2</text></g>
<g fill="#262626" stroke="#262626" stroke-linejoin="round" aria-label="0"><text transform="matrix(1.1905,0,0,1.0079,136.05,264.74)" font-size="17.7" stroke-width="0.128">0</text></g>
<g fill="#262626" stroke="#262626" stroke-linejoin="round" aria-label="3"><text transform="matrix(1.0427,0,0,1.0058,136.77,343.62)" font-size="17.7" stroke-width="0.137">3</text></g>
<g fill="#262626" stroke="#262626" stroke-linejoin="round" aria-label="2"><text transform="matrix(1.0382,0,0,1.0029,136.76,375.70)" font-size="17.7" stroke-width="0.137">2</text></g>
<g fill="#262626" stroke="#262626" stroke-linejoin="round" aria-label="1"><text transform="matrix(1.0425,0,0,0.9998,136.80,407.69)" font-size="17.7" stroke-width="0.137">1</text></g>
<g fill="#262626" stroke="#262626" stroke-linejoin="round" aria-label="0"><text transform="matrix(1.1905,0,0,1.0079,136.05,439.54)" font-size="17.7" stroke-width="0.128">0</text></g>
<g fill="#262626" stroke="#262626" stroke-linejoin="round" aria-label="-1"><text transform="matrix(1.1395,0,0,1.1252,130.17,472.09)" font-size="17.7" stroke-width="0.124">-</text><text transform="matrix(1.0425,0,0,0.9998,137.70,471.74)" font-size="17.7" stroke-width="0.137">1</text></g>
<g fill="#262626" stroke="#262626" stroke-linejoin="round" aria-label="-2"><text transform="matrix(1.1395,0,0,1.1252,130.17,503.25)" font-size="17.7" stroke-width="0.124">-</text><text transform="matrix(1.0382,0,0,1.0029,137.66,502.90)" font-size="17.7" stroke-width="0.137">2</text></g>
<g fill="#262626" stroke="#262626" stroke-linejoin="round" aria-label="-3"><text transform="matrix(1.1395,0,0,1.1252,130.17,534.84)" font-size="17.7" stroke-width="0.124">-</text><text transform="matrix(1.0427,0,0,1.0058,137.67,534.52)" font-size="17.7" stroke-width="0.137">3</text></g>
<g fill="#262626" stroke="#262626" stroke-linejoin="round" aria-label="6"><text transform="matrix(1.1322,0,0,1.0066,136.38,612.63)" font-size="17.7" stroke-width="0.131">6</text></g>
<g fill="#262626" stroke="#262626" stroke-linejoin="round" aria-label="4"><text transform="matrix(1.0656,0,0,0.9998,136.54,675.74)" font-size="17.7" stroke-width="0.136">4</text></g>
<g fill="#262626" stroke="#262626" stroke-linejoin="round" aria-label="2"><text transform="matrix(1.0382,0,0,1.0029,136.76,739.75)" font-size="17.7" stroke-width="0.137">2</text></g>
<g fill="#262626" stroke="#262626" stroke-linejoin="round" aria-label="0"><text transform="matrix(1.1905,0,0,1.0079,136.05,803.79)" font-size="17.7" stroke-width="0.128">0</text></g>
<g transform="translate(125.90,226.90) rotate(-90)" fill="#262626" stroke="#262626" stroke-linejoin="round" aria-label="Std Dev (mm)"><text transform="matrix(0.9058,0,0,1.0079,-0.46,0.06)" font-size="17.7" stroke-width="0.209">S</text><text transform="matrix(1.3510,0,0,1.0020,10.76,-0.16)" font-size="17.7" stroke-width="0.172">t</text><text transform="matrix(1.0989,0,0,0.9943,18.76,0.06)" font-size="17.7" stroke-width="0.191">d</text><text transform="matrix(1.0554,0,0,0.9998,36.86,0.00)" font-size="17.7" stroke-width="0.195">D</text><text transform="matrix(1.1467,0,0,0.9889,50.37,0.07)" font-size="17.7" stroke-width="0.188">e</text><text transform="matrix(1.0713,0,0,0.9766,61.95,0.00)" font-size="17.7" stroke-width="0.196">v</text><text transform="matrix(0.9729,0,0,0.9015,79.05,-1.11)" font-size="17.7" stroke-width="0.214">(</text><text transform="matrix(1.0906,0,0,0.9811,86.21,0.00)" font-size="17.7" stroke-width="0.193">m</text><text transform="matrix(1.0906,0,0,0.9811,103.62,0.00)" font-size="17.7" stroke-width="0.193">m</text><text transform="matrix(0.9729,0,0,0.9015,122.22,-1.11)" font-size="17.7" stroke-width="0.214">)</text></g>
<g transform="translate(119.80,478.80) rotate(-90)" fill="#262626" stroke="#262626" stroke-linejoin="round" aria-label="Bias (mm)"><text transform="matrix(0.9327,0,0,0.9995,-1.08,0.00)" font-size="17.28" stroke-width="0.207">B</text><text transform="matrix(1.2076,0,0,0.9891,10.90,0.00)" font-size="17.28" stroke-width="0.183">i</text><text transform="matrix(0.9835,0,0,0.9887,16.80,0.06)" font-size="17.28" stroke-width="0.203">a</text><text transform="matrix(0.9797,0,0,0.9878,27.90,0.06)" font-size="17.28" stroke-width="0.203">s</text><text transform="matrix(0.9774,0,0,0.9013,43.67,-1.08)" font-size="17.28" stroke-width="0.213">(</text><text transform="matrix(1.0956,0,0,0.9809,50.70,0.00)" font-size="17.28" stroke-width="0.193">m</text><text transform="matrix(1.0956,0,0,0.9809,67.77,0.00)" font-size="17.28" stroke-width="0.193">m</text><text transform="matrix(0.9774,0,0,0.9013,86.02,-1.08)" font-size="17.28" stroke-width="0.213">)</text></g>
<g transform="translate(125.80,748.80) rotate(-90)" fill="#262626" stroke="#262626" stroke-linejoin="round" aria-label="RMS (mm)"><text transform="matrix(0.9849,0,0,0.9995,-1.14,0.00)" font-size="17.28" stroke-width="0.202">R</text><text transform="matrix(1.1018,0,0,0.9995,11.37,0.00)" font-size="17.28" stroke-width="0.191">M</text><text transform="matrix(0.9119,0,0,1.0077,28.19,0.06)" font-size="17.28" stroke-width="0.209">S</text><text transform="matrix(0.9794,0,0,0.9013,45.57,-1.08)" font-size="17.28" stroke-width="0.213">(</text><text transform="matrix(1.0979,0,0,0.9809,52.61,0.00)" font-size="17.28" stroke-width="0.193">m</text><text transform="matrix(1.0979,0,0,0.9809,69.72,0.00)" font-size="17.28" stroke-width="0.193">m</text><text transform="matrix(0.9794,0,0,0.9013,88.01,-1.08)" font-size="17.28" stroke-width="0.213">)</text></g>
</svg>
</body></html>
